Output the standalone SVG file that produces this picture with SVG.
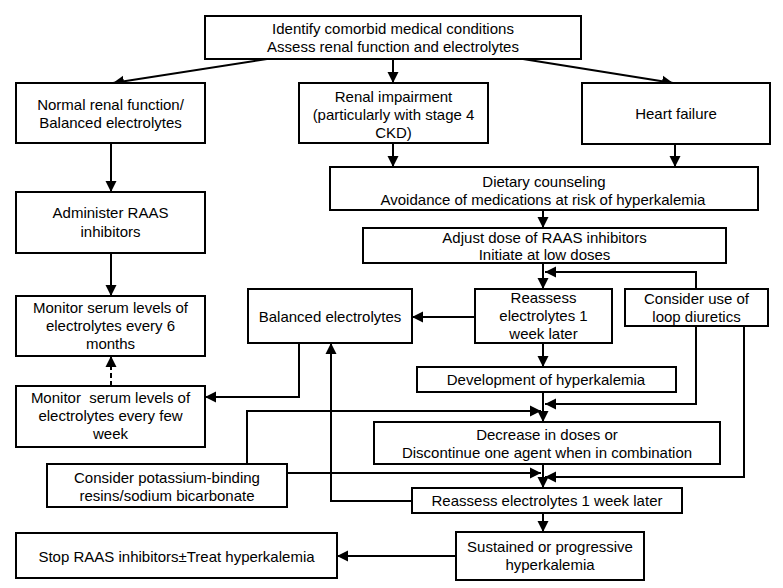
<svg xmlns="http://www.w3.org/2000/svg" width="783" height="588" viewBox="0 0 783 588">
<defs>
<marker id="ah" markerUnits="userSpaceOnUse" markerWidth="12" markerHeight="12" viewBox="0 0 12 12" refX="11" refY="6" orient="auto">
<path d="M0,0.5 L11,6 L0,11.5 Z" fill="#000"/>
</marker>
<style>
rect{fill:#fff;stroke:#000;stroke-width:2}
text{font-family:"Liberation Sans",Arial,sans-serif;font-size:15px;fill:#000;text-anchor:middle;white-space:pre}
.c{fill:none;stroke:#000;stroke-width:2;marker-end:url(#ah)}
.d{fill:none;stroke:#000;stroke-width:2;stroke-dasharray:5,3;marker-end:url(#ah)}
</style>
</defs>
<rect x="0" y="0" width="783" height="588" style="stroke:none"/>
<g id="connectors">
<path class="c" d="M267,59 L113,83"/>
<path class="c" d="M393,59 L393,83"/>
<path class="c" d="M523,59 L673,83"/>
<path class="c" d="M111,143 L111,192"/>
<path class="c" d="M111,253 L111,296"/>
<path class="d" d="M111,386 L111,356"/>
<path class="c" d="M393,143 L393,167"/>
<path class="c" d="M675,144 L675,167"/>
<path class="c" d="M543,210 L543,228"/>
<path class="c" d="M543,263 L543,289"/>
<path class="c" d="M696,289 L696,272 L545,272"/>
<path class="c" d="M475,317 L412,317"/>
<path class="c" d="M543,343 L543,367"/>
<path class="c" d="M299,343 L299,397 L205,397"/>
<path class="c" d="M543,392 L543,422"/>
<path class="c" d="M696,326 L696,404 L545,404"/>
<path class="c" d="M247,464 L247,411 L541,411"/>
<path class="c" d="M543,464 L543,488"/>
<path class="c" d="M744,326 L744,477 L545,477"/>
<path class="c" d="M287,473 L541,473"/>
<path class="c" d="M412,501 L331,501 L331,343"/>
<path class="c" d="M543,513 L543,532"/>
<path class="c" d="M456,556 L337,556"/>
</g>
<g id="n1"><rect x="205" y="16" width="376" height="43"/><text x="393" y="34">Identify comorbid medical conditions</text><text x="393" y="52">Assess renal function and electrolytes</text></g>
<g id="n2"><rect x="16" y="83" width="189" height="60"/><text x="110.5" y="110">Normal renal function/</text><text x="110.5" y="128">Balanced electrolytes</text></g>
<g id="n3"><rect x="299" y="83" width="189" height="60"/><text x="393.5" y="102">Renal impairment</text><text x="393.5" y="120">(particularly with stage 4</text><text x="393.5" y="138">CKD)</text></g>
<g id="n4"><rect x="582" y="83" width="188" height="61"/><text x="676" y="119">Heart failure</text></g>
<g id="n5"><rect x="330" y="167" width="428" height="43"/><text x="544" y="187">Dietary counseling</text><text x="543" y="205">Avoidance of medications at risk of hyperkalemia</text></g>
<g id="n6"><rect x="16" y="192" width="189" height="61"/><text x="110.5" y="218">Administer RAAS</text><text x="110.5" y="237">inhibitors</text></g>
<g id="n7"><rect x="363" y="228" width="363" height="35"/><text x="544.5" y="243">Adjust dose of RAAS inhibitors</text><text x="544.5" y="260">Initiate at low doses</text></g>
<g id="n8"><rect x="16" y="296" width="189" height="60"/><text x="110.5" y="313">Monitor serum levels of</text><text x="110.5" y="331">electrolytes every 6</text><text x="110.5" y="349">months</text></g>
<g id="n9"><rect x="248" y="289" width="164" height="54"/><text x="330" y="322">Balanced electrolytes</text></g>
<g id="n10"><rect x="475" y="289" width="137" height="54"/><text x="543.5" y="303">Reassess</text><text x="543.5" y="321">electrolytes 1</text><text x="543.5" y="339">week later</text></g>
<g id="n11"><rect x="625" y="289" width="143" height="37"/><text x="696.5" y="304">Consider use of</text><text x="696.5" y="322">loop diuretics</text></g>
<g id="n12"><rect x="417" y="367" width="259" height="25"/><text x="546" y="385">Development of hyperkalemia</text></g>
<g id="n13"><rect x="16" y="386" width="189" height="61"/><text x="110.5" y="403">Monitor  serum levels of</text><text x="110.5" y="421">electrolytes every few</text><text x="110.5" y="439">week</text></g>
<g id="n14"><rect x="374" y="422" width="346" height="42"/><text x="547" y="440">Decrease in doses or</text><text x="547" y="458">Discontinue one agent when in combination</text></g>
<g id="n15"><rect x="47" y="464" width="240" height="43"/><text x="167" y="483">Consider potassium-binding</text><text x="167" y="501">resins/sodium bicarbonate</text></g>
<g id="n16"><rect x="412" y="488" width="270" height="25"/><text x="547" y="506">Reassess electrolytes 1 week later</text></g>
<g id="n17"><rect x="456" y="532" width="188" height="48"/><text x="550" y="552">Sustained or progressive</text><text x="550" y="570">hyperkalemia</text></g>
<g id="n18"><rect x="16" y="533" width="321" height="45"/><text x="176.5" y="562">Stop RAAS inhibitors±Treat hyperkalemia</text></g>
</svg>
